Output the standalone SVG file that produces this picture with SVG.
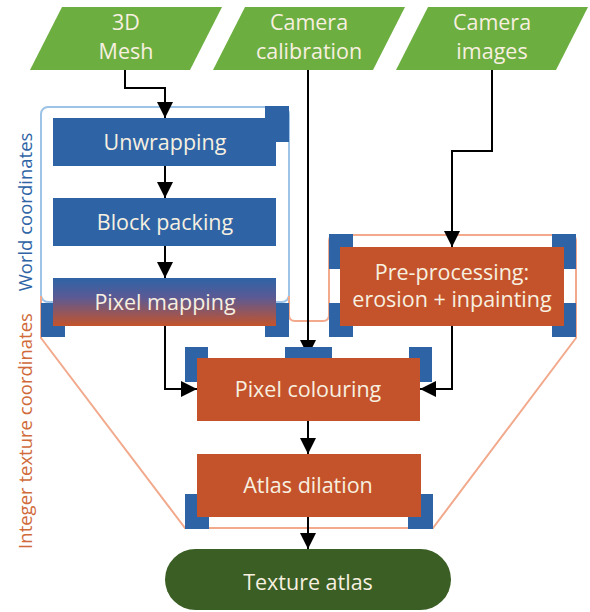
<svg xmlns="http://www.w3.org/2000/svg" width="590" height="612" viewBox="0 0 590 612">
<defs>
<style>
.inp{fill:#6CAE3F}
.blue{fill:#2E64A6}
.org{fill:#C4532B}
.sq{fill:#2E64A6}
.t{font-family:"Open Sans","Noto Sans",sans-serif;font-size:21.5px;fill:#F7F0E0;text-anchor:middle}
.side{font-family:"Open Sans","Noto Sans",sans-serif;font-size:18.5px;text-anchor:middle}
.c{fill:none;stroke:#000;stroke-width:2;marker-end:url(#ah)}
</style>
<marker id="ah" markerUnits="userSpaceOnUse" markerWidth="16" markerHeight="16" refX="16" refY="8" orient="auto">
<path d="M0,0 L16,8 L0,16 z" fill="#000"/>
</marker>
<linearGradient id="grad" x1="0" y1="0" x2="0" y2="1">
<stop offset="0" stop-color="#2E64A6"/>
<stop offset="0.4" stop-color="#5A5A95"/>
<stop offset="1" stop-color="#C4532B"/>
</linearGradient>
</defs>
<rect width="590" height="612" fill="#fff"/>

<g id="regions">
<rect x="41" y="107" width="248" height="195" rx="7" fill="none" stroke="#9DC3E6" stroke-width="2"/>
<path d="M289 296 L289 315 Q289 321 295 321 L323 321 Q329 321 329 315 L329 241 Q329 235 335 235 L570 235 Q576 235 576 241 L576 338 L433 528 L185 528 L41 338 L41 296" fill="none" stroke="#F2A98C" stroke-width="2"/>
<text class="side" fill="#2E64A6" transform="translate(32,212) rotate(-90)">World coordinates</text>
<text class="side" fill="#D06A3A" transform="translate(32,431) rotate(-90)">Integer texture coordinates</text>
</g>

<g id="mesh">
<polygon class="inp" points="62,7 222,7 190,70 30,70"/>
<text class="t" x="126" y="30">3D</text>
<text class="t" x="126" y="59">Mesh</text>
</g>
<g id="calibration">
<polygon class="inp" points="245,7 405,7 373,70 213,70"/>
<text class="t" x="309" y="30">Camera</text>
<text class="t" x="309" y="59">calibration</text>
</g>
<g id="images">
<polygon class="inp" points="428,7 588,7 556,70 396,70"/>
<text class="t" x="492" y="30">Camera</text>
<text class="t" x="492" y="59">images</text>
</g>

<g id="unwrapping">
<rect class="sq" x="265" y="106" width="24" height="36"/>
<rect class="blue" x="53" y="118" width="223" height="48"/>
<text class="t" x="165" y="150">Unwrapping</text>
</g>
<g id="blockpacking">
<rect class="blue" x="53" y="198" width="223" height="48"/>
<text class="t" x="165" y="230">Block packing</text>
</g>
<g id="pixelmapping">
<rect class="sq" x="41" y="303" width="24" height="34"/>
<rect class="sq" x="265" y="303" width="24" height="34"/>
<rect x="53" y="278" width="223" height="48" fill="url(#grad)"/>
<text class="t" x="165" y="310">Pixel mapping</text>
</g>
<g id="preprocessing">
<rect class="sq" x="329" y="234" width="24" height="35"/>
<rect class="sq" x="329" y="303" width="24" height="34"/>
<rect class="sq" x="552" y="234" width="24" height="35"/>
<rect class="sq" x="552" y="303" width="24" height="34"/>
<rect class="org" x="340" y="247" width="224" height="79"/>
<text class="t" x="452" y="280">Pre-processing:</text>
<text class="t" x="452" y="307">erosion + inpainting</text>
</g>

<g id="connectors">
<path class="c" d="M125 70 V88 H165 V118"/>
<path class="c" d="M165 166 V198"/>
<path class="c" d="M165 246 V278"/>
<path class="c" d="M165 326 V389 H197"/>
<path class="c" d="M308 70 V356"/>
<path class="c" d="M492 70 V151 H452 V247"/>
<path class="c" d="M452 326 V389 H420"/>
<path class="c" d="M308 421 V454"/>
<path class="c" d="M308 517 V549"/>
</g>

<g id="pixelcolouring">
<rect class="sq" x="185" y="347" width="23" height="35"/>
<rect class="sq" x="409" y="347" width="23" height="35"/>
<rect class="sq" x="285" y="347" width="47" height="14"/>
<rect class="org" x="197" y="358" width="223" height="63"/>
<text class="t" x="308" y="397">Pixel colouring</text>
</g>
<g id="atlasdilation">
<rect class="sq" x="185" y="494" width="24" height="35"/>
<rect class="sq" x="408" y="494" width="25" height="35"/>
<rect class="org" x="197" y="454" width="224" height="63"/>
<text class="t" x="308" y="493">Atlas dilation</text>
</g>
<g id="textureatlas">
<rect x="165" y="549" width="286" height="61" rx="30.5" fill="#3A5E23"/>
<text class="t" x="308" y="590">Texture atlas</text>
</g>
</svg>
